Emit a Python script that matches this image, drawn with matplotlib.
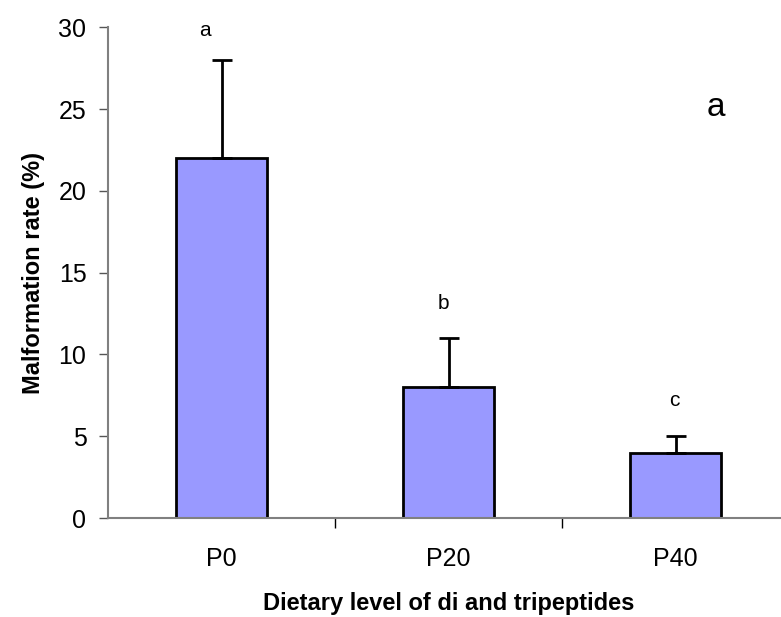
import matplotlib
matplotlib.use("Agg")
import matplotlib.pyplot as plt

categories = ["P0", "P20", "P40"]
values = [22, 8, 4]
errors = [6, 3, 1]
letters = ["a", "b", "c"]
letter_x = [-0.073, 0.976, 1.993]
letter_y = [29.8, 13.1, 7.2]

plt.rcParams['font.family'] = ['Liberation Sans', 'DejaVu Sans']

fig = plt.figure(figsize=(7.81, 6.17), dpi=100)
ax = fig.add_axes([108/781, 99/617, 681/781, (518-27.3)/617])
x = list(range(len(categories)))
ax.bar(x, values, width=0.40, color="#9999FF", edgecolor="black", linewidth=2, zorder=2)
ax.errorbar(x, values, yerr=[[0]*len(values), errors], fmt="none", ecolor="black",
            elinewidth=2, capsize=7.5, capthick=2, zorder=3)
for lx, t, ly in zip(letter_x, letters, letter_y):
    ax.text(lx, ly, t, ha="center", va="center", fontsize=15)

ax.set_xlim(-0.5, 2.5)
ax.set_ylim(0, 30)
ax.set_yticks([0, 5, 10, 15, 20, 25, 30])
ax.set_xticks(x)
ax.set_xticklabels(categories)
ax.set_xticks([0.5, 1.5], minor=True)
ax.tick_params(axis="x", which="major", length=0, labelsize=18, pad=21)
ax.tick_params(axis="x", which="minor", length=7, width=1, color="black")
ax.tick_params(axis="y", length=6.5, width=1, color="#555555", labelsize=18, pad=9)
for s in ["top", "right"]:
    ax.spines[s].set_visible(False)
for s in ["left", "bottom"]:
    ax.spines[s].set_color("#808080")
    ax.spines[s].set_linewidth(1.5)
ax.set_ylabel("Malformation rate (%)", fontsize=17, fontweight="bold", labelpad=10)
ax.set_xlabel("Dietary level of di and tripeptides", fontsize=17, fontweight="bold", labelpad=15)
fig.text(716/781, 1 - 107/617, "a", fontsize=24, ha="center", va="center")
fig.savefig("out.png", dpi=100)
